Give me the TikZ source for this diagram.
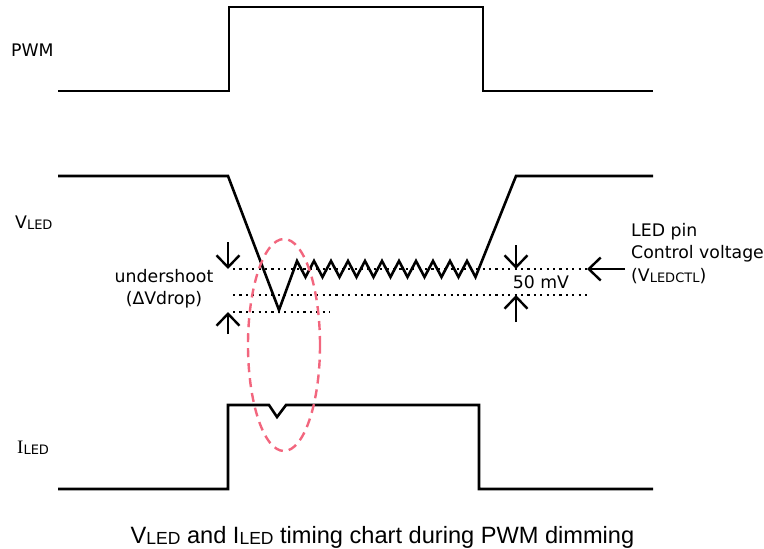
\documentclass[tikz,border=0pt]{standalone}
\usepackage{fontspec}
\setmainfont{DejaVu Sans}
\newfontfamily\capfont{Liberation Sans}
\newfontfamily\serifI{Liberation Serif}
\usetikzlibrary{arrows.meta, positioning, calc}
\definecolor{ink}{HTML}{000000}
\definecolor{markpink}{HTML}{F2667E}
\newcommand{\lbsub}[1]{\raisebox{-1.5pt}{\fontsize{13}{13}\selectfont #1}}
\newcommand{\capsub}[1]{\raisebox{-1pt}{\fontsize{17.5}{17.5}\selectfont #1}}

\begin{document}
\begin{tikzpicture}[
    x=1pt, y=-1pt,
    wave/.style={draw=ink, line width=2.6pt, line join=miter},
    guide/.style={ink, line width=2.2pt, dash pattern=on 2.2pt off 4.2pt},
    dimarrow/.style={-{Straight Barb[length=12pt, width=23pt]}, line width=2.4pt, ink},
    lbl/.style={font=\fontsize{17.3}{22.5}\selectfont, inner sep=0pt},
    callout/.style={draw=markpink, line width=2.4pt, dash pattern=on 9pt off 6pt},
]
\useasboundingbox (0,0) rectangle (764,549);

% Waveforms
\draw[wave] (58,91) -- (229,91) -- (229,7) -- (483,7) -- (483,91) -- (653,91);
\draw[wave] (58,176) -- (228,176) -- (279,310) -- (297,261)
    \foreach \k in {0,...,9} { -- ({305.5+17*\k},277) -- ({314+17*\k},261) }
    -- (475.5,277) -- (516,176) -- (653,176);
\draw[wave] (58,489) -- (228,489) -- (228,405) -- (269,405) -- (277,417)
    -- (286,405) -- (479,405) -- (479,489) -- (653,489);

% Dotted levels
\draw[guide] (233,269) -- (587,269);
\draw[guide] (233,295) -- (587,295);
\draw[guide] (233,312) -- (330,312);

% Undershoot marker
\draw[callout] (284,345) ellipse [x radius=36pt, y radius=106pt];

% Nodes
\node[lbl, anchor=base west] (pwm) at (11,56) {PWM};
\node[lbl, anchor=base west] (vled) at (15,228) {V\lbsub{LED}};
\node[lbl, anchor=base west] (iled) at (17,453) {{\serifI\fontsize{19}{19}\selectfont I}\lbsub{LED}};
\node[lbl, align=center, anchor=north] (undershoot) at (164,269) {undershoot\\(ΔVdrop)};
\node[lbl] (fifty) at (541,282) {50 mV};
\node[lbl, align=left, anchor=north west] (ctl) at (631,223) {LED pin\\Control voltage\\(V\lbsub{LEDCTL})};
\node[inner sep=0pt, anchor=base, font=\capfont\fontsize{23.6}{28}\selectfont] (caption) at (382.5,543)
    {V\capsub{LED} and I\capsub{LED} timing chart during PWM dimming};

% Arrow ends
\coordinate (usTopTail) at (228,242);
\coordinate (usTopTip) at (228,269);
\coordinate (usBotTail) at (228,334);
\coordinate (usBotTip) at (228,312);
\coordinate (mvTopTail) at (516,245);
\coordinate (mvTopTip) at (516,269);
\coordinate (mvBotTail) at (516,322);
\coordinate (mvBotTip) at (516,295);
\coordinate (ctlTail) at (625,269);
\coordinate (ctlTip) at (587,269);

% Arrows
\draw[dimarrow] (usTopTail) -- (usTopTip);
\draw[dimarrow] (usBotTail) -- (usBotTip);
\draw[dimarrow] (mvTopTail) -- (mvTopTip);
\draw[dimarrow] (mvBotTail) -- (mvBotTip);
\draw[dimarrow] (ctlTail) -- (ctlTip);

\end{tikzpicture}
\end{document}
